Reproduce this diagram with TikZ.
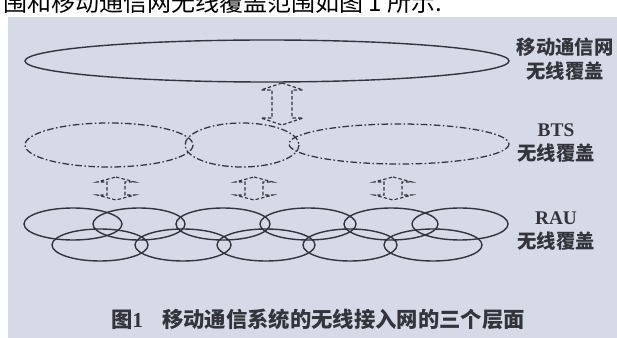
\documentclass[tikz,border=0pt]{standalone}
\usepackage{fontspec}
\setmainfont{Liberation Serif}
\newfontfamily\cjk{Noto Sans CJK SC}
\usetikzlibrary{positioning}

\definecolor{paper}{RGB}{214,218,231}
\definecolor{ink}{RGB}{52,52,60}

\tikzset{
    cover/.style={draw=ink, line width=1.05pt},
    btscover/.style={draw=ink, line width=0.95pt, dash pattern=on 5pt off 1.8pt on 1.2pt off 1.8pt},
    linkline/.style={draw=ink, line width=0.85pt, dash pattern=on 2.6pt off 1.6pt},
    layerlabel/.style={align=center, text=ink, inner sep=0pt,
        font=\bfseries\fontsize{14.5}{17.5}\selectfont},
}

\begin{document}
\begin{tikzpicture}[x=0.75pt, y=-0.75pt]
            % Seite: 1 Einheit = 1 Pixel, y nach unten
            \useasboundingbox (0,0) rectangle (617,338);
            \fill[white] (0,0) rectangle (617,338);
            \fill[paper] (8,17) rectangle (617,338);

            % Doppelpfeil: x, Spitze oben, Spitze unten, Kopfbreite, Schaftbreite, Kopfhöhe
            \def\linkarrow#1#2#3#4#5#6{
                \draw[linkline] (#1,#2) -- ({#1+#4},{#2+#6}) -- ({#1+#5},{#2+#6})
                    -- ({#1+#5},{#3-#6}) -- ({#1+#4},{#3-#6}) -- (#1,#3)
                    -- ({#1-#4},{#3-#6}) -- ({#1-#5},{#3-#6}) -- ({#1-#5},{#2+#6})
                    -- ({#1-#4},{#2+#6}) -- cycle;
            }

            % Textzeile oben (angeschnitten)
            \node[anchor=base west, inner sep=0pt, font=\cjk\fontsize{18}{20}\selectfont]
                (intro) at (3,11.5) {围和移动通信网无线覆盖范围如图 1 所示.};

            % Mobilfunknetz
            \coordinate (mobile) at (267,61);
            \draw[cover] (mobile) ellipse (242 and 21);

            % BTS-Ebene
            \coordinate (bts1) at (109,145);
            \coordinate (bts2) at (242,145);
            \coordinate (bts3) at (399,144);
            \draw[btscover] (bts1) ellipse (84 and 22);
            \draw[btscover] (bts2) ellipse (57 and 22);
            \draw[btscover] (bts3) ellipse (110 and 20);

            % RAU-Ebene, zwei Reihen
            \foreach \cx/\rx [count=\i] in {73/49,139/46,223/47,308/48,391/47,460/48} {
                \coordinate (rauA\i) at (\cx,224);
                \draw[cover] (rauA\i) ellipse ({\rx} and 16);
            }
            \foreach \cx/\rx [count=\i] in {100/48,183/48,266/49,350/47,433/49} {
                \coordinate (rauB\i) at (\cx,245);
                \draw[cover] (rauB\i) ellipse ({\rx} and 16);
            }

            % Verbindungen zwischen den Ebenen
            \linkarrow{282}{83}{125}{21}{10}{7}
            \foreach \ax in {116,254,393} {
                \linkarrow{\ax}{177}{200}{19}{9}{5}
            }

            % Beschriftungen
            \node[layerlabel, font=\cjk\bfseries\fontsize{14.5}{18}\selectfont] (lblmobile) at (565,59)
                {移动通信网\\无线覆盖};
            \node[layerlabel] (lblbts) at (556,143) {BTS\\{\cjk 无线覆盖}};
            \node[layerlabel] (lblrau) at (556,231) {RAU\\{\cjk 无线覆盖}};

            % Bildunterschrift
            \node[text=ink, inner sep=0pt, font=\cjk\bfseries\fontsize{16}{18}\selectfont] (caption) at (318,319)
                {图{\rmfamily 1}\hspace{0.9em}移动通信系统的无线接入网的三个层面};
\end{tikzpicture}
\end{document}
